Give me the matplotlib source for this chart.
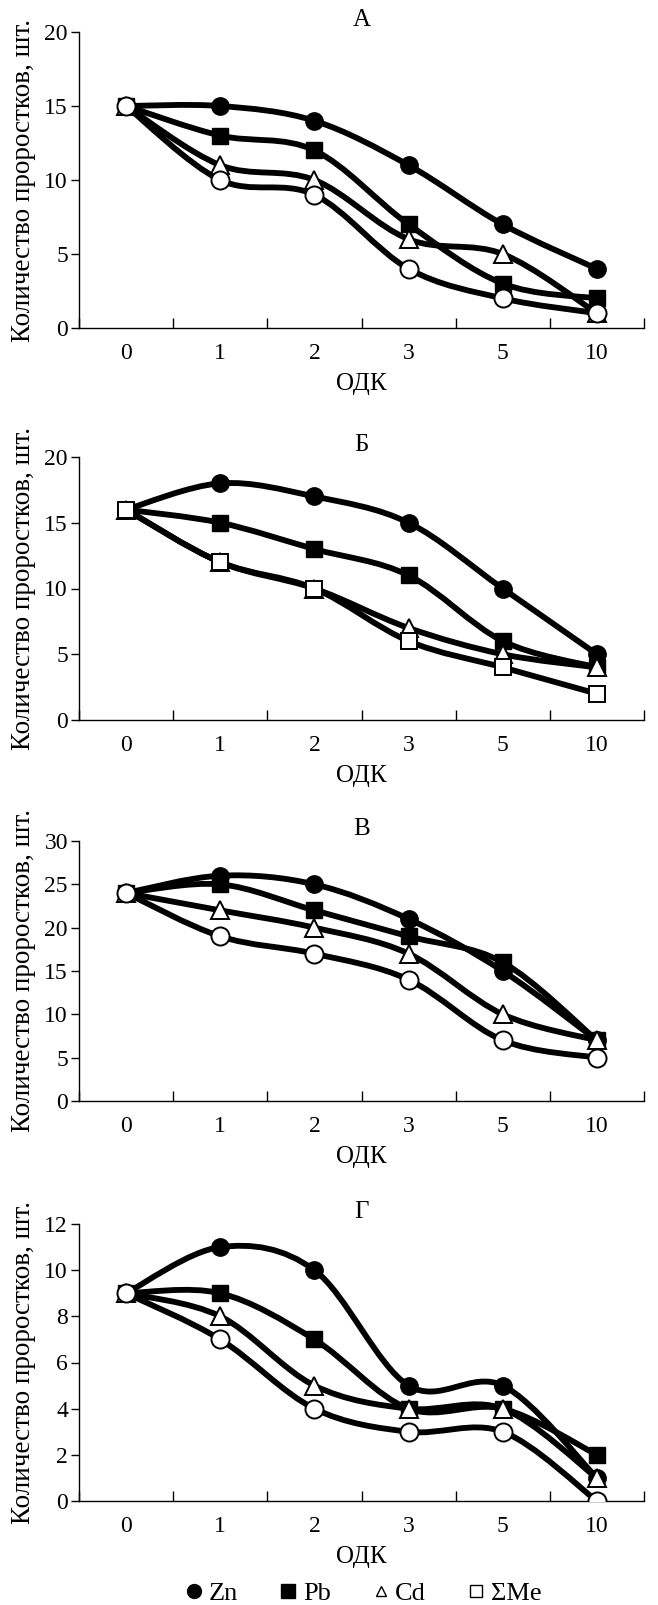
import numpy as np
import matplotlib
matplotlib.use("Agg")
from matplotlib import pyplot as plt
from matplotlib.path import Path
from matplotlib.patches import PathPatch
from matplotlib.lines import Line2D

plt.rcParams['font.family'] = ['Liberation Serif', 'DejaVu Serif']

# categories on the x axis (ОДК)
odk = ["0", "1", "2", "3", "5", "10"]

# panel А
a_zn = [15, 15, 14, 11, 7, 4]
a_pb = [15, 13, 12, 7, 3, 2]
a_cd = [15, 11, 10, 6, 5, 1]
a_me = [15, 10, 9, 4, 2, 1]
# panel Б
b_zn = [16, 18, 17, 15, 10, 5]
b_pb = [16, 15, 13, 11, 6, 4]
b_cd = [16, 12, 10, 7, 5, 4]
b_me = [16, 12, 10, 6, 4, 2]
# panel В
v_zn = [24, 26, 25, 21, 15, 7]
v_pb = [24, 25, 22, 19, 16, 7]
v_cd = [24, 22, 20, 17, 10, 7]
v_me = [24, 19, 17, 14, 7, 5]
# panel Г
g_zn = [9, 11, 10, 5, 5, 1]
g_pb = [9, 9, 7, 4, 4, 2]
g_cd = [9, 8, 5, 4, 4, 1]
g_me = [9, 7, 4, 3, 3, 0]

panels = [
    ("А", [a_zn, a_pb, a_cd, a_me], 20, 5, "o"),
    ("Б", [b_zn, b_pb, b_cd, b_me], 20, 5, "s"),
    ("В", [v_zn, v_pb, v_cd, v_me], 30, 5, "o"),
    ("Г", [g_zn, g_pb, g_cd, g_me], 12, 2, "o"),
]

# axes boxes in pixels: (top, bottom)
boxes = [(32, 328), (457, 720), (841, 1101), (1224, 1501)]
W, H = 658, 1605
L, R = 79, 644


def smooth_path(xs, ys):
    # сглаженная линия как в Excel (Catmull-Rom -> Bezier)
    pts = np.column_stack([xs, ys]).astype(float)
    n = len(pts)
    verts = [pts[0]]
    codes = [Path.MOVETO]
    for i in range(n - 1):
        p0 = pts[i - 1] if i > 0 else pts[i]
        p1 = pts[i]
        p2 = pts[i + 1]
        p3 = pts[i + 2] if i + 2 < n else pts[i + 1]
        c1 = p1 + (p2 - p0) / 6.0
        c2 = p2 - (p3 - p1) / 6.0
        verts += [c1, c2, p2]
        codes += [Path.CURVE4] * 3
    return Path(verts, codes)


fig = plt.figure(figsize=(W / 100, H / 100), dpi=100)
x = np.arange(len(odk)) + 0.5

for (title, series, ymax, ystep, me_marker), (top, bot) in zip(panels, boxes):
    ax = fig.add_axes([L / W, 1 - bot / H, (R - L) / W, (bot - top) / H])
    # линии
    for s in series:
        ax.add_patch(PathPatch(smooth_path(x, s), facecolor="none", edgecolor="black",
                               lw=4.2, capstyle="round", joinstyle="round", zorder=2))
    # маркеры
    ax.plot(x, series[0], ls="none", marker="o", ms=12.5, mfc="black", mec="black", zorder=3)
    ax.plot(x, series[1], ls="none", marker="s", ms=12, mfc="black", mec="black", zorder=3)
    ax.plot(x, series[2], ls="none", marker="^", ms=12.5, mfc="white", mec="black", mew=1.4, zorder=4)
    ax.plot(x, series[3], ls="none", marker=me_marker, ms=13 if me_marker == "o" else 12,
            mfc="white", mec="black", mew=1.4, zorder=5)

    ax.set_xlim(0, 6)
    ax.set_ylim(0, ymax)
    ax.set_yticks(np.arange(0, ymax + 0.1, ystep))
    ax.set_xticks(np.arange(0, 7))
    ax.set_xticklabels([])
    ax.set_xticks(x, minor=True)
    ax.set_xticklabels(odk, minor=True)
    ax.tick_params(axis="x", which="major", direction="in", length=7, width=1)
    ax.tick_params(axis="x", which="minor", length=0, pad=11, labelsize=17)
    ax.tick_params(axis="y", direction="out", length=6, width=1, labelsize=17, pad=2)
    for sp in ["top", "right"]:
        ax.spines[sp].set_visible(False)
    ax.spines["left"].set_linewidth(1)
    ax.spines["bottom"].set_linewidth(1)
    ax.set_title(title, fontsize=18, pad=4)
    ax.set_xlabel("ОДК", fontsize=18, labelpad=6)
    ax.set_ylabel("Количество проростков, шт.", fontsize=19.5)
    ax.yaxis.set_label_coords((24 - L) / (R - L), 0.5)
    ax.yaxis.label.set_verticalalignment("center")

# легенда
handles = [
    Line2D([], [], ls="none", marker="o", ms=10, mfc="black", mec="black"),
    Line2D([], [], ls="none", marker="s", ms=10, mfc="black", mec="black"),
    Line2D([], [], ls="none", marker="^", ms=7, mfc="white", mec="black", mew=1),
    Line2D([], [], ls="none", marker="s", ms=8, mfc="white", mec="black", mew=1),
]
fig.legend(handles, ["Zn", "Pb", "Cd", "ΣMe"], loc="center", bbox_to_anchor=(364 / W, 1 - 1593 / H),
           ncol=4, frameon=False, fontsize=19, handlelength=0.6, handletextpad=0.25,
           columnspacing=1.6, borderaxespad=0, borderpad=0)

fig.savefig("out.png", dpi=100)
